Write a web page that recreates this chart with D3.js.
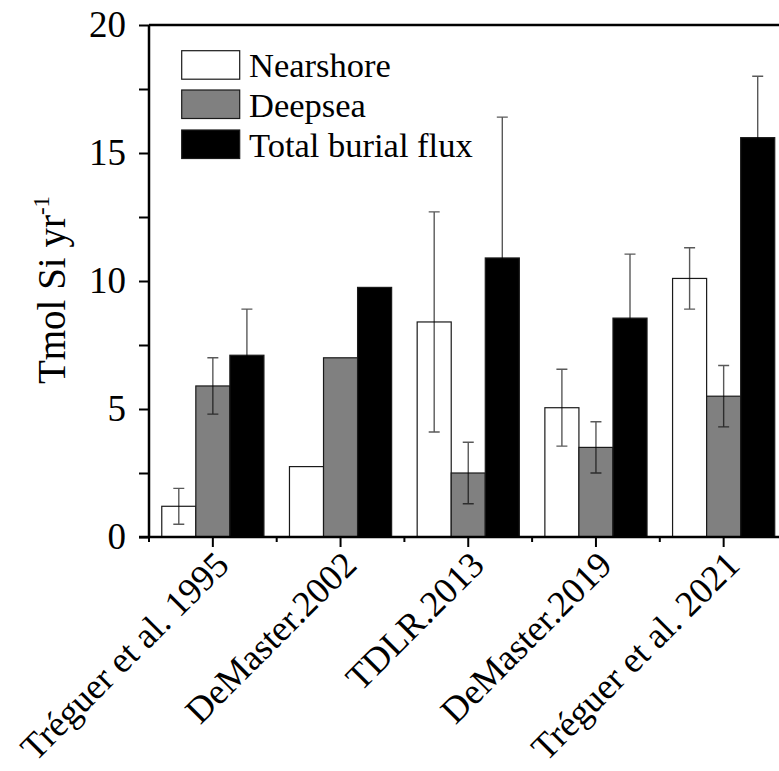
<!DOCTYPE html>
<html>
<head>
<meta charset="utf-8">
<script src="https://cdn.jsdelivr.net/npm/d3@7"></script>
<style>
  html, body { margin: 0; padding: 0; background: #fff; }
  svg { display: block; }
  text { font-family: "Liberation Serif", "Times New Roman", serif; fill: #000; }
</style>
</head>
<body>
<svg id="chart" width="779" height="771"></svg>
<script>
// Biogenic silica burial estimates by study (Tmol Si per year)
const categories = ["Tréguer et al. 1995", "DeMaster.2002", "TDLR.2013", "DeMaster.2019", "Tréguer et al. 2021"];
const seriesNames = ["Nearshore", "Deepsea", "Total burial flux"];
const nearshore    = [1.2, 2.75, 8.4, 5.05, 10.1];
const nearshoreErr = [0.7, null, 4.3, 1.5, 1.2];
const deepsea      = [5.9, 7.0, 2.5, 3.5, 5.5];
const deepseaErr   = [1.1, null, 1.2, 1.0, 1.2];
const total        = [7.1, 9.75, 10.9, 8.55, 15.6];
const totalErr     = [1.8, null, 5.5, 2.5, 2.4];
const majorTicks = [0, 5, 10, 15, 20];
const minorTicks = [2.5, 7.5, 12.5, 17.5];

const fills = ["#ffffff", "#808080", "#000000"];
const values = [nearshore, deepsea, total];
const errors = [nearshoreErr, deepseaErr, totalErr];

const svg = d3.select("#chart");
const plotLeft = 149, plotRight = 787.5, plotTop = 25, plotBottom = 537;

const y = d3.scaleLinear().domain([0, 20]).range([plotBottom, plotTop]);
const x0 = d3.scaleBand().domain(categories).range([plotLeft, plotRight]).padding(0);
const bw = x0.bandwidth();
const x1 = d3.scaleBand().domain(seriesNames).range([bw * 0.1, bw * 0.9]).padding(0);

// bars
const rows = categories.map((c, i) => seriesNames.map((s, k) => ({
  cat: c, series: s, k, value: values[k][i], err: errors[k][i]
})));

const groups = svg.append("g").selectAll("g").data(rows).join("g")
  .attr("transform", d => `translate(${x0(d[0].cat)},0)`);

groups.selectAll("rect").data(d => d).join("rect")
  .attr("x", d => x1(d.series))
  .attr("width", x1.bandwidth())
  .attr("y", d => y(d.value))
  .attr("height", d => y(0) - y(d.value))
  .attr("fill", d => fills[d.k])
  .attr("stroke", "#1a1a1a")
  .attr("stroke-width", 1.2);

// error bars (semi-transparent black: grey over white, hidden over black)
const errData = d => d.filter(e => e.err != null);
const cap = 5.5;
const eg = groups.selectAll("g.err").data(errData).join("g").attr("class", "err")
  .attr("stroke", "#000").attr("stroke-opacity", 0.65).attr("stroke-width", 1.4).attr("fill", "none");
const cx = d => x1(d.series) + x1.bandwidth() / 2;
eg.append("path")
  .attr("d", d => {
    const c = cx(d), lo = y(d.value - d.err), hi = y(d.value + d.err);
    return `M${c},${lo}V${hi}M${c - cap},${hi}H${c + cap}M${c - cap},${lo}H${c + cap}`;
  });

// y axis
const yAxis = svg.append("g").attr("transform", `translate(${plotLeft},0)`)
  .call(d3.axisLeft(y).tickValues(majorTicks).tickSize(10).tickPadding(13).tickFormat(d3.format("d")));
svg.append("g").attr("transform", `translate(${plotLeft},0)`)
  .call(d3.axisLeft(y).tickValues(minorTicks).tickSize(10).tickFormat(""))
  .call(g => g.select(".domain").remove());
yAxis.select(".domain").attr("stroke-width", 2.5).attr("d", `M0,${plotTop}V${plotBottom}`);
yAxis.selectAll(".tick text").attr("font-size", 37)
  .attr("font-family", '"Liberation Serif", serif').attr("fill", "#000");

// top frame line
svg.append("line").attr("x1", plotLeft).attr("x2", plotRight)
  .attr("y1", y(20)).attr("y2", y(20))
  .attr("stroke", "#000").attr("stroke-width", 2.5);

// x axis
const xAxis = svg.append("g").attr("transform", `translate(0,${plotBottom})`)
  .call(d3.axisBottom(x0).tickSize(10).tickFormat(""));
xAxis.select(".domain").attr("stroke-width", 2.5).attr("d", `M${plotLeft - 10},0H${plotRight}`);
// short ticks on group boundaries
const bounds = categories.map(c => x0(c)).concat([x0(categories[categories.length - 1]) + bw]);
xAxis.selectAll("line.minor").data(bounds).join("line").attr("class", "minor")
  .attr("x1", d => d).attr("x2", d => d).attr("y1", 0).attr("y2", 5)
  .attr("stroke", "#000").attr("stroke-width", 2);
svg.selectAll(".tick line").attr("stroke", "#000").attr("stroke-width", 2);

// rotated category labels
svg.append("g").selectAll("text").data(categories).join("text")
  .attr("transform", d => `translate(${x0(d) + bw / 2 + 18},${567}) rotate(-45)`)
  .attr("text-anchor", "end")
  .attr("font-size", 36.5)
  .text(d => d);

// y axis title
const title = svg.append("text")
  .attr("transform", `translate(65,${290}) rotate(-90)`)
  .attr("text-anchor", "middle")
  .attr("font-size", 39);
title.append("tspan").text("Tmol Si yr");
title.append("tspan").attr("font-size", 23).attr("dy", -16).text("-1");

// legend
const legend = svg.append("g");
const legendY = [50.7, 90, 130];
seriesNames.forEach((s, k) => {
  legend.append("rect")
    .attr("x", 181.7).attr("y", legendY[k])
    .attr("width", 58).attr("height", 28.5)
    .attr("fill", fills[k]).attr("stroke", "#1a1a1a").attr("stroke-width", 1.2);
  legend.append("text")
    .attr("x", 249).attr("y", legendY[k] + 26.5)
    .attr("font-size", 34.5)
    .text(s);
});
</script>
</body>
</html>
